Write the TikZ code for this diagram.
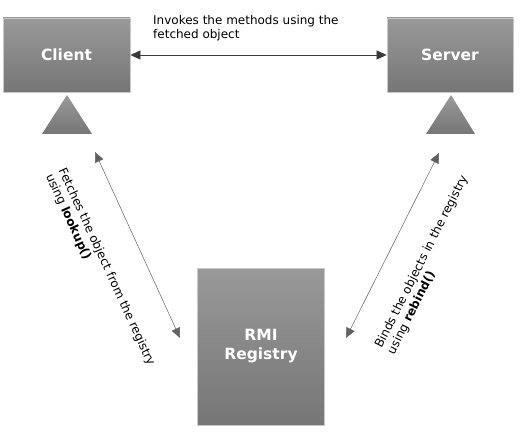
\documentclass[tikz,border=0pt]{standalone}
\usepackage{fontspec}
\setmainfont{DejaVu Sans}
\usetikzlibrary{arrows.meta}
\definecolor{boxtop}{HTML}{999999}
\definecolor{boxbot}{HTML}{767676}
\definecolor{boxedge}{HTML}{C8C8C8}
\definecolor{arr}{HTML}{3A3A3A}
\tikzset{
  graybox/.style={draw=boxedge, line width=0.8pt, top color=boxtop, bottom color=boxbot,
    text=white, font=\fontsize{15.5}{19}\selectfont\bfseries, align=center, inner sep=0pt},
  link/.style={draw=arr, line width=0.7pt, {Triangle[length=10pt,width=9pt]}-{Triangle[length=10pt,width=9pt]}},
  slink/.style={draw=arr!80, line width=0.5pt, {Triangle[length=10pt,width=9pt]}-{Triangle[length=10pt,width=9pt]}},
  lbl/.style={font=\fontsize{12}{14}\selectfont, align=left, inner sep=0pt, text=black},
}
\begin{document}
\begin{tikzpicture}[x=1pt,y=-1pt]
\useasboundingbox (0,0) rectangle (528,433);
\node[graybox, minimum width=127pt, minimum height=74pt] (client) at (66.5,55) {Client};
\node[graybox, minimum width=126pt, minimum height=74pt] (server) at (450,55) {Server};
\node[graybox, minimum width=127pt, minimum height=157pt] (reg) at (261,346.5) {RMI\\Registry};
\shade[top color=boxtop, bottom color=boxbot] (42,134) -- (67,95) -- (92,134) -- cycle;
\shade[top color=boxtop, bottom color=boxbot] (426,134) -- (451,95) -- (475,134) -- cycle;
\draw[link] (client.east) -- (server.west);
\node[lbl, anchor=north west] (top) at (153,15) {Invokes the methods using the\\fetched object};
\coordinate (la) at (95,152);
\coordinate (lb) at (180,338);
\coordinate (ra) at (439,153);
\coordinate (rb) at (346,338);
\draw[slink] (la) -- (lb);
\draw[slink] (ra) -- (rb);
\node[lbl, rotate=-65.4] (ltext) at (100,270) {Fetches the object from the registry\\using \textbf{lookup()}};
\node[lbl, rotate=63.3] (rtext) at (428,265) {Binds the objects in the registry\\using \textbf{rebind()}};
\end{tikzpicture}
\end{document}
